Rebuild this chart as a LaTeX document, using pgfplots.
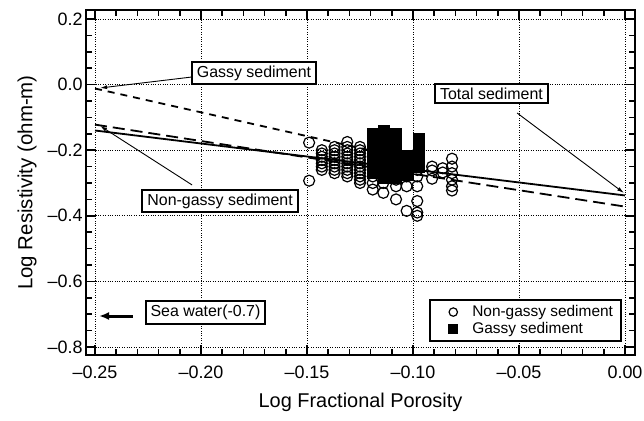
\documentclass[border=0pt]{standalone}
\usepackage{fontspec}
\setmainfont{Liberation Sans}
\usepackage{pgfplots}
\pgfplotsset{compat=1.18}
\usetikzlibrary{arrows.meta}
\begin{document}
\begin{tikzpicture}
\begin{axis}[
  at={(0,0)}, anchor=south west,
  scale only axis, width=549bp, height=345bp,
  xmin=-0.25425, xmax=0.00472, ymin=-0.8244, ymax=0.2274,
  axis line style={line width=2.8bp},
  xtick={-0.25,-0.20,-0.15,-0.10,-0.05,0},
  xticklabels={\textendash0.25,\textendash0.20,\textendash0.15,\textendash0.10,\textendash0.05,0.00},
  ytick={-0.8,-0.6,-0.4,-0.2,0,0.2},
  yticklabels={\textendash0.8,\textendash0.6,\textendash0.4,\textendash0.2,0.0,0.2},
  minor x tick num=4, minor y tick num=3,
  tick align=inside, major tick length=10bp, minor tick length=6bp,
  every tick/.style={line width=1.6bp, black},
  xmajorgrids, ymajorgrids,
  major grid style={dotted, line width=0.8bp, black},
  ticklabel style={font=\fontsize{18}{20}\selectfont},
  xticklabel style={yshift=-7bp},
  xlabel={Log Fractional Porosity},
  ylabel={Log Resistivity (ohm-m)},
  xlabel style={font=\fontsize{20}{22}\selectfont, at={(axis description cs:0.5,-0.138)}, anchor=center},
  ylabel style={font=\fontsize{20.5}{22}\selectfont, at={(axis description cs:-0.1075,0.50)}, anchor=center, rotate=0},
  legend style={at={(axis cs:-0.0014,-0.785)}, anchor=south east, draw=black, line width=2bp,
    font=\fontsize{15.5}{17}\selectfont, row sep=0bp, inner xsep=6bp, inner ysep=4bp},
  legend image code/.code={\path[draw=none,fill=none] (-17bp,0bp) -- (17bp,0bp); \draw[#1, mark size=4.2bp] plot coordinates {(0bp,0bp)};},
  legend cell align=left,
  clip=false,
]
% Non-gassy sediment (open circles)
\addplot[only marks, mark=o, mark size=5.5bp, mark options={line width=1.2bp, fill=white, draw=black}] coordinates {
(-0.149,-0.177) (-0.149,-0.293)
(-0.143,-0.20) (-0.143,-0.21) (-0.143,-0.22) (-0.143,-0.23) (-0.143,-0.24) (-0.143,-0.25) (-0.143,-0.26)
(-0.137,-0.19) (-0.137,-0.20) (-0.137,-0.21) (-0.137,-0.22) (-0.137,-0.23) (-0.137,-0.24) (-0.137,-0.25) (-0.137,-0.26) (-0.137,-0.27)
(-0.131,-0.175) (-0.131,-0.19) (-0.131,-0.20) (-0.131,-0.21) (-0.131,-0.22) (-0.131,-0.23) (-0.131,-0.24) (-0.131,-0.25) (-0.131,-0.26) (-0.131,-0.27) (-0.131,-0.28)
(-0.125,-0.19) (-0.125,-0.20) (-0.125,-0.21) (-0.125,-0.22) (-0.125,-0.23) (-0.125,-0.24) (-0.125,-0.25) (-0.125,-0.26) (-0.125,-0.27) (-0.125,-0.28) (-0.125,-0.29) (-0.125,-0.30)
(-0.119,-0.22) (-0.119,-0.24) (-0.119,-0.26) (-0.119,-0.28) (-0.119,-0.30) (-0.119,-0.32)
(-0.114,-0.26) (-0.114,-0.28) (-0.114,-0.30) (-0.114,-0.33)
(-0.108,-0.27) (-0.108,-0.29) (-0.108,-0.31) (-0.108,-0.35)
(-0.103,-0.26) (-0.103,-0.28) (-0.103,-0.31) (-0.103,-0.385)
(-0.098,-0.21) (-0.098,-0.24) (-0.098,-0.26) (-0.098,-0.28) (-0.098,-0.31) (-0.098,-0.355) (-0.098,-0.39) (-0.098,-0.40)
(-0.091,-0.25) (-0.091,-0.262) (-0.091,-0.287)
(-0.086,-0.255) (-0.086,-0.268)
(-0.0816,-0.226) (-0.0816,-0.25) (-0.0816,-0.27) (-0.0816,-0.29) (-0.0816,-0.31) (-0.0816,-0.323)
};
\addlegendentry{Non-gassy sediment}
% Gassy sediment (filled squares)
\addplot[only marks, mark=square*, mark size=5.5bp, mark options={fill=black, draw=black}] coordinates {
(-0.119,-0.151) (-0.119,-0.165) (-0.119,-0.18) (-0.119,-0.195) (-0.119,-0.21) (-0.119,-0.225) (-0.119,-0.24) (-0.119,-0.255) (-0.119,-0.27)
(-0.1137,-0.142) (-0.1137,-0.155) (-0.1137,-0.17) (-0.1137,-0.185) (-0.1137,-0.20) (-0.1137,-0.215) (-0.1137,-0.23) (-0.1137,-0.245) (-0.1137,-0.26) (-0.1137,-0.275) (-0.1137,-0.285)
(-0.108,-0.151) (-0.108,-0.165) (-0.108,-0.18) (-0.108,-0.195) (-0.108,-0.21) (-0.108,-0.225) (-0.108,-0.24) (-0.108,-0.255) (-0.108,-0.27) (-0.108,-0.285)
(-0.1026,-0.218) (-0.1026,-0.23) (-0.1026,-0.245) (-0.1026,-0.26) (-0.1026,-0.275)
(-0.0972,-0.166) (-0.0972,-0.18) (-0.0972,-0.195) (-0.0972,-0.21) (-0.0972,-0.225) (-0.0972,-0.24) (-0.0972,-0.25)
};
\addlegendentry{Gassy sediment}
% regression lines
\addplot[black, line width=1.8bp, forget plot] coordinates {(-0.25,-0.14) (0,-0.338)};
\addplot[black, line width=1.8bp, dash pattern=on 12bp off 6bp, forget plot] coordinates {(-0.25,-0.122) (0,-0.372)};
\addplot[black, line width=1.8bp, dash pattern=on 7bp off 6bp, forget plot] coordinates {(-0.25,-0.012) (-0.095,-0.237)};
% annotations
\draw[-{Latex[length=7bp,width=4bp]}, line width=0.9bp] (axis cs:-0.2042,0.0232) -- (axis cs:-0.2476,-0.0104);
\draw[-{Latex[length=7bp,width=4bp]}, line width=0.9bp] (axis cs:-0.2042,-0.306) -- (axis cs:-0.2476,-0.126);
\draw[-{Latex[length=7bp,width=4bp]}, line width=0.9bp] (axis cs:-0.0509,-0.0866) -- (axis cs:-0.00047,-0.3305);
\draw[-{Latex[length=10bp,width=8bp]}, line width=3bp] (axis cs:-0.2321,-0.7055) -- (axis cs:-0.2481,-0.7055);
\tikzset{annot/.style={draw=black, line width=2bp, fill=white, inner xsep=5bp, inner ysep=4bp, font=\fontsize{16}{18}\selectfont}}
\node[annot] at (axis cs:-0.175,0.0354) {Gassy sediment};
\node[annot] at (axis cs:-0.191,-0.355) {Non-gassy sediment};
\node[annot] at (axis cs:-0.063,-0.027) {Total sediment};
\node[annot] at (axis cs:-0.1979,-0.695) {Sea water(-0.7)};
\end{axis}
\pgfresetboundingbox
\path[use as bounding box] (-86bp,-66bp) rectangle (558bp,355bp);
\end{tikzpicture}
\end{document}
